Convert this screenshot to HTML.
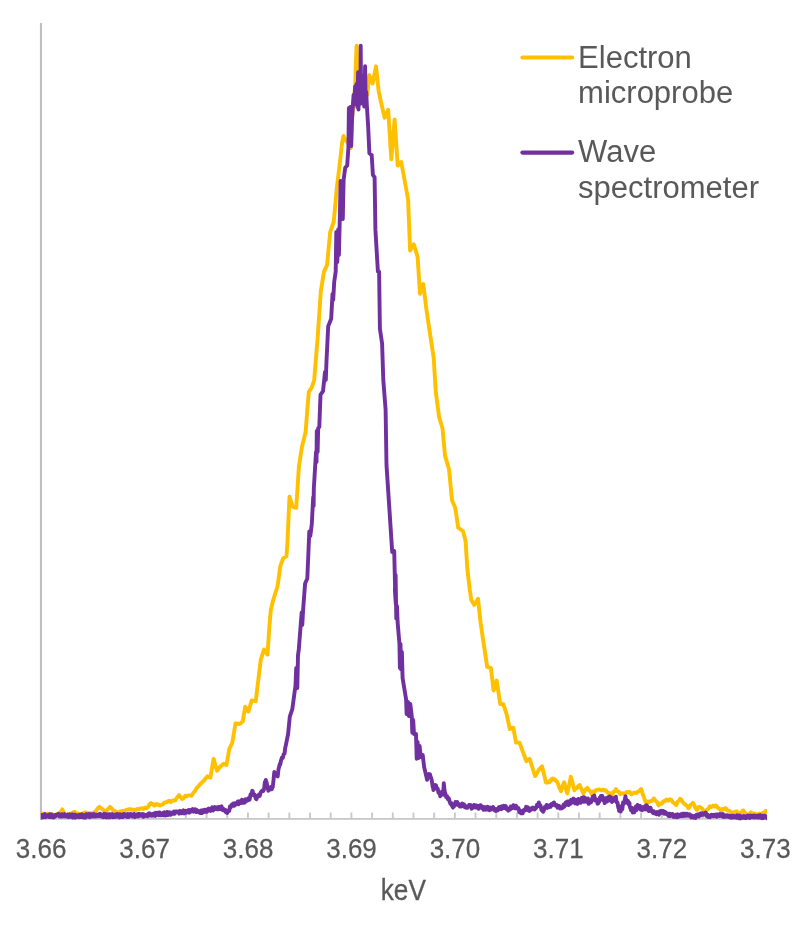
<!DOCTYPE html>
<html><head><meta charset="utf-8"><title>chart</title>
<style>
html,body{margin:0;padding:0;background:#fff;}
body{width:806px;height:933px;overflow:hidden;}
svg{display:block;will-change:transform;}
text{font-family:"Liberation Sans",sans-serif;fill:#595959;}
</style></head>
<body>
<svg width="806" height="933" viewBox="0 0 806 933">
<rect width="806" height="933" fill="#ffffff"/>
<defs><clipPath id="pc"><rect x="40.8" y="20" width="726.3" height="805"/></clipPath></defs>
<g fill="none">
<path d="M40.95,22.9V819.7" stroke="#bfbfbf" stroke-width="2.1"/>
<path d="M40,818.85H767" stroke="#c6c6c6" stroke-width="1.8"/>
<path d="M41.05,812.4V818.5M61.74,812.4V818.5M82.43,812.4V818.5M103.12,812.4V818.5M123.81,812.4V818.5M144.50,812.4V818.5M165.19,812.4V818.5M185.88,812.4V818.5M206.57,812.4V818.5M227.26,812.4V818.5M247.95,812.4V818.5M268.64,812.4V818.5M289.33,812.4V818.5M310.02,812.4V818.5M330.71,812.4V818.5M351.40,812.4V818.5M372.09,812.4V818.5M392.78,812.4V818.5M413.47,812.4V818.5M434.16,812.4V818.5M454.85,812.4V818.5M475.54,812.4V818.5M496.23,812.4V818.5M516.92,812.4V818.5M537.61,812.4V818.5M558.30,812.4V818.5M578.99,812.4V818.5M599.68,812.4V818.5M620.37,812.4V818.5M641.06,812.4V818.5M661.75,812.4V818.5M682.44,812.4V818.5M703.13,812.4V818.5M723.82,812.4V818.5M744.51,812.4V818.5M765.20,812.4V818.5" stroke="#c9c9c9" stroke-width="1.9"/>
</g>
<g clip-path="url(#pc)" fill="none" stroke-width="3.9" stroke-linejoin="round" stroke-linecap="round">
<path d="M38.0,813.7 L38.0,814.0 L39.6,814.0 L41.0,813.5 L41.2,813.1 L42.8,814.1 L44.4,813.5 L46.0,814.7 L47.6,813.8 L48.0,814.5 L49.2,814.2 L50.8,815.3 L52.4,814.3 L54.0,815.5 L55.0,815.0 L55.6,815.4 L57.2,813.6 L58.8,814.0 L60.0,813.0 L60.4,812.0 L62.0,810.2 L62.3,809.3 L63.6,812.2 L64.8,815.5 L65.2,815.7 L66.8,814.7 L68.4,814.7 L70.0,813.5 L70.0,814.0 L71.6,813.7 L73.2,812.1 L74.7,811.8 L74.8,812.5 L76.4,813.1 L78.0,813.4 L79.0,814.5 L79.6,814.7 L81.2,813.6 L82.8,813.9 L84.4,812.6 L85.0,813.0 L86.0,812.5 L87.6,813.8 L89.2,813.1 L90.8,813.2 L92.0,814.0 L92.4,814.1 L94.0,812.2 L95.6,811.5 L96.0,811.0 L97.2,808.9 L98.8,807.4 L99.5,806.8 L100.4,808.0 L102.0,808.6 L102.0,809.0 L103.6,810.1 L105.0,812.3 L105.2,812.6 L106.8,810.1 L108.0,809.0 L108.4,809.1 L110.0,807.0 L110.0,806.8 L111.6,808.3 L113.0,810.0 L113.2,810.6 L114.8,811.0 L116.4,811.9 L117.0,813.0 L118.0,813.0 L119.6,811.6 L121.2,811.2 L122.8,811.5 L123.0,811.0 L124.4,810.9 L126.0,810.0 L127.6,809.5 L129.2,809.6 L129.3,809.3 L130.8,809.3 L132.4,809.9 L134.0,809.6 L135.0,810.0 L135.6,810.2 L137.2,809.0 L138.8,809.1 L140.0,808.5 L140.4,808.8 L142.0,808.1 L143.6,808.9 L145.2,807.5 L146.7,808.0 L146.8,808.3 L148.4,806.4 L150.0,803.7 L151.0,803.0 L151.6,804.0 L153.2,804.1 L154.2,805.6 L154.8,804.5 L156.4,804.7 L156.6,803.9 L158.0,804.3 L159.6,805.5 L160.3,805.6 L161.2,804.8 L162.8,804.4 L164.0,803.0 L164.4,802.4 L166.0,802.4 L167.6,801.7 L167.8,801.4 L169.2,800.8 L170.8,802.1 L171.0,801.5 L172.4,800.6 L174.0,800.3 L175.2,800.6 L175.6,799.8 L177.2,797.3 L178.8,795.6 L179.0,795.0 L180.4,797.1 L182.0,798.7 L182.0,799.0 L183.6,798.2 L185.2,796.0 L186.4,795.7 L186.8,796.2 L188.4,795.4 L190.0,795.4 L191.4,795.7 L191.6,795.8 L193.2,792.9 L194.8,791.4 L196.4,788.4 L197.6,787.0 L198.0,786.9 L199.6,784.6 L203.8,780.8 L207.4,776.2 L210.4,777.6 L213.6,758.8 L216.9,770.7 L220.0,767.0 L223.6,763.8 L226.5,765.0 L229.3,748.9 L232.3,742.7 L235.5,723.3 L239.7,724.0 L242.7,721.6 L245.2,706.7 L248.4,711.7 L251.6,700.5 L255.8,701.2 L257.6,685.6 L260.8,659.6 L264.0,649.6 L267.5,654.6 L269.5,624.8 L270.8,610.0 L273.2,600.0 L277.6,586.0 L280.3,566.1 L283.3,558.2 L286.5,556.2 L287.5,541.3 L289.5,496.6 L292.7,506.6 L296.2,507.8 L298.9,466.8 L301.9,447.0 L305.6,432.1 L307.3,409.8 L308.8,391.9 L311.8,387.4 L314.2,380.0 L317.6,338.6 L320.8,291.4 L324.0,271.6 L327.0,265.4 L330.2,231.9 L333.7,222.0 L336.9,187.2 L339.5,166.0 L342.1,142.9 L343.4,136.0 L345.5,140.0 L348.0,143.0 L350.8,148.0 L351.6,125.0 L353.2,105.0 L355.3,85.0 L355.6,70.0 L356.6,45.7 L357.6,70.0 L359.0,85.0 L362.5,96.0 L367.2,95.0 L369.2,75.3 L372.6,83.6 L376.0,66.3 L378.6,90.8 L381.2,103.0 L384.7,117.7 L388.2,109.9 L391.3,159.4 L394.6,119.5 L397.7,165.5 L401.2,162.0 L405.3,184.0 L408.1,199.6 L410.1,250.5 L413.8,244.3 L417.6,256.7 L420.0,293.9 L423.3,284.0 L426.3,308.8 L430.0,333.6 L433.7,358.0 L435.8,392.3 L439.1,417.1 L442.5,428.3 L445.0,455.6 L449.0,469.3 L452.0,500.3 L455.2,507.7 L458.2,527.6 L463.1,531.3 L465.6,541.2 L467.3,568.5 L469.8,590.0 L471.3,600.0 L474.3,604.9 L478.0,598.7 L480.5,622.3 L484.2,647.1 L487.2,666.9 L490.9,668.2 L493.6,690.5 L496.6,680.6 L500.3,704.1 L503.3,704.1 L506.6,714.1 L509.8,729.0 L513.3,727.7 L516.0,742.6 L519.5,742.6 L522.7,751.3 L526.4,761.2 L529.6,758.7 L535.1,776.1 L538.8,769.9 L542.0,766.2 L545.0,778.4 L545.8,782.3 L546.6,782.7 L548.2,781.5 L548.7,782.3 L549.8,782.0 L551.4,779.0 L552.5,778.6 L553.0,779.7 L554.6,779.1 L556.2,781.2 L556.7,781.1 L557.8,783.3 L559.4,787.8 L561.0,791.2 L561.1,791.0 L562.6,786.2 L564.1,782.3 L564.2,782.4 L565.8,788.7 L567.3,793.5 L567.4,792.7 L569.0,785.8 L570.6,777.8 L570.7,776.7 L572.2,781.5 L573.8,788.4 L574.5,790.2 L575.4,788.9 L577.0,788.2 L577.3,787.5 L578.6,785.8 L579.7,785.0 L580.2,786.7 L581.8,789.7 L583.2,793.2 L583.4,793.4 L585.0,790.3 L586.6,788.4 L587.3,787.8 L588.2,789.8 L589.8,790.7 L591.4,793.2 L591.4,794.0 L593.0,791.4 L594.6,791.9 L595.5,790.5 L596.2,790.1 L597.8,789.7 L599.4,789.4 L601.0,790.5 L602.6,790.0 L603.7,789.7 L604.2,790.6 L605.8,790.3 L607.4,792.4 L609.0,793.2 L610.6,793.2 L611.9,794.6 L612.2,794.7 L613.8,791.6 L615.4,790.6 L616.0,789.1 L617.0,791.0 L618.6,791.5 L620.0,794.0 L620.2,794.2 L621.8,793.3 L623.4,793.5 L625.0,793.4 L626.6,792.0 L628.2,791.9 L628.2,792.6 L629.8,792.0 L631.4,794.3 L632.3,794.0 L633.0,793.2 L634.6,792.5 L636.2,793.1 L637.8,791.9 L637.8,791.7 L639.4,791.0 L641.0,789.0 L641.3,789.1 L642.6,793.8 L644.2,798.0 L645.2,801.4 L645.8,802.0 L647.4,801.6 L648.7,802.2 L649.0,801.4 L650.6,801.3 L652.2,800.6 L653.8,798.5 L654.2,798.7 L655.4,800.8 L657.0,802.0 L658.6,805.4 L658.8,805.0 L660.2,803.5 L661.8,803.7 L663.4,801.2 L665.0,801.2 L665.1,800.6 L666.6,799.6 L668.2,800.7 L669.8,799.2 L670.5,799.5 L671.4,800.0 L673.0,802.6 L674.6,803.4 L676.0,805.0 L676.2,805.1 L677.8,801.5 L679.4,800.4 L680.1,798.7 L681.0,799.4 L682.6,801.9 L684.2,803.8 L685.8,804.9 L687.4,806.4 L688.3,808.2 L689.0,807.9 L690.6,804.8 L692.2,804.0 L692.9,802.8 L693.8,803.9 L695.4,807.9 L696.5,809.6 L697.0,809.9 L698.6,807.2 L699.7,806.9 L700.2,807.7 L701.8,808.2 L703.4,810.5 L704.7,811.0 L705.0,811.6 L706.6,810.0 L708.2,808.9 L709.8,806.3 L710.1,806.9 L711.4,807.0 L713.0,805.6 L714.6,806.5 L715.6,805.5 L716.2,805.6 L717.8,807.9 L719.4,808.7 L721.0,810.4 L721.0,811.0 L722.6,808.9 L724.2,809.4 L725.1,808.2 L725.8,808.1 L727.4,810.5 L729.0,810.6 L730.6,811.8 L732.0,813.7 L732.2,814.0 L733.8,812.2 L735.4,812.5 L736.0,811.5 L737.0,811.5 L738.6,813.4 L740.1,813.7 L740.2,813.3 L741.8,812.1 L742.9,810.4 L743.4,810.6 L745.0,813.0 L746.6,814.1 L747.0,815.0 L748.2,814.7 L749.8,813.4 L751.0,812.3 L751.4,812.8 L753.0,813.8 L754.6,813.5 L756.2,814.1 L756.5,815.0 L757.8,814.9 L759.4,813.6 L761.0,814.6 L762.0,813.7 L762.6,812.9 L764.2,812.8 L765.8,810.8 L766.0,811.5 L767.4,811.7 L769.0,810.5" stroke="#ffc000"/>
<path d="M38.0,814.8 L38.0,816.0 L38.9,814.9 L39.7,817.2 L40.6,814.9 L41.0,816.0 L41.4,817.5 L42.3,815.1 L43.1,817.5 L44.0,815.4 L44.8,814.1 L45.7,817.2 L46.5,815.4 L47.4,816.4 L48.2,815.0 L49.1,816.9 L49.9,814.2 L50.8,817.1 L51.6,814.4 L52.5,816.5 L53.3,817.5 L54.2,817.1 L55.0,814.9 L55.9,816.2 L56.7,814.6 L57.6,814.6 L58.4,813.9 L59.3,816.3 L60.0,815.5 L60.1,816.6 L61.0,816.5 L61.8,814.2 L62.7,816.4 L63.5,814.7 L64.4,814.1 L65.2,816.4 L66.1,815.1 L66.9,816.4 L67.8,814.6 L68.6,817.2 L69.5,814.4 L70.3,816.8 L71.1,815.0 L72.0,814.3 L72.8,817.5 L73.7,814.9 L74.5,814.5 L75.4,817.7 L76.2,815.1 L77.1,816.8 L77.9,815.4 L78.8,817.2 L79.6,814.7 L80.0,816.0 L80.5,817.0 L81.3,817.1 L82.2,814.3 L83.0,816.6 L83.9,817.5 L84.7,815.2 L85.6,817.6 L86.4,814.1 L87.3,814.6 L88.1,816.4 L89.0,814.0 L89.8,817.2 L90.7,814.2 L91.5,816.6 L92.4,814.3 L93.2,816.4 L94.1,814.0 L94.9,816.5 L95.8,816.3 L96.6,814.8 L97.5,816.1 L98.3,814.6 L99.2,816.1 L100.0,815.5 L100.0,813.8 L100.9,814.2 L101.7,816.8 L102.6,815.0 L103.4,817.2 L104.3,813.8 L105.1,816.9 L106.0,814.2 L106.8,817.4 L107.7,814.4 L108.5,817.3 L109.4,814.2 L110.2,817.3 L111.1,814.3 L111.9,814.1 L112.8,817.2 L113.6,816.9 L114.5,814.8 L115.3,817.0 L116.2,814.4 L117.0,814.1 L117.9,816.7 L118.7,814.5 L119.6,817.4 L120.0,815.8 L120.4,814.3 L121.3,817.0 L122.1,815.0 L123.0,816.9 L123.8,814.0 L124.7,816.2 L125.5,814.3 L126.4,816.3 L127.2,817.0 L128.1,814.0 L128.9,816.9 L129.8,814.5 L130.6,813.9 L131.5,814.6 L132.3,816.4 L133.2,814.4 L134.0,813.9 L134.9,817.2 L135.7,814.8 L136.6,816.2 L137.4,814.4 L138.3,816.5 L139.1,813.8 L140.0,814.3 L140.8,815.8 L141.7,815.8 L142.5,814.1 L143.4,816.8 L144.2,814.6 L145.1,815.7 L145.9,816.0 L146.7,815.2 L146.8,814.7 L147.6,816.2 L148.5,813.7 L149.3,813.2 L150.2,815.6 L151.0,814.1 L151.9,815.8 L152.7,814.0 L153.6,815.5 L154.4,813.3 L155.3,815.9 L156.1,812.8 L157.0,813.7 L157.8,812.8 L158.7,815.2 L159.5,812.4 L160.0,814.0 L160.4,815.2 L161.2,815.4 L162.1,814.9 L162.9,813.1 L163.8,815.3 L164.6,812.3 L165.5,815.3 L166.3,815.3 L167.2,812.0 L168.0,815.1 L168.9,814.3 L169.7,812.3 L170.6,814.8 L171.4,812.7 L172.3,812.6 L173.1,813.8 L174.0,811.6 L174.8,813.7 L175.0,813.0 L175.7,811.5 L176.5,811.4 L177.4,811.6 L178.2,812.0 L179.1,813.6 L179.9,810.9 L180.8,813.4 L181.6,813.4 L182.5,811.1 L183.3,810.3 L184.2,813.4 L185.0,812.9 L185.9,810.9 L186.7,812.6 L187.6,810.9 L188.4,810.1 L189.3,812.7 L190.1,810.0 L191.0,811.5 L191.8,809.8 L192.7,809.0 L193.5,811.7 L193.8,810.6 L194.4,809.7 L195.2,809.3 L196.1,812.1 L196.9,810.1 L197.8,811.0 L198.6,812.3 L199.5,811.3 L200.0,812.2 L200.3,813.0 L201.2,810.6 L202.0,813.1 L202.9,810.3 L203.7,811.9 L204.6,809.9 L205.4,811.7 L206.3,809.8 L207.1,811.6 L208.0,808.9 L208.8,808.5 L209.7,808.8 L210.0,809.5 L210.5,810.9 L211.4,810.1 L212.2,807.3 L213.1,810.6 L213.9,809.3 L214.8,807.1 L215.6,808.9 L216.5,809.2 L217.3,807.3 L218.2,809.2 L219.0,806.9 L219.9,809.1 L220.7,807.9 L221.0,807.2 L221.6,806.3 L222.4,809.9 L223.3,808.7 L224.1,810.6 L225.0,809.7 L225.8,812.2 L226.7,811.6 L227.3,812.9 L227.5,810.6 L228.4,810.3 L229.2,811.0 L230.1,806.2 L230.9,807.2 L231.0,806.0 L231.8,804.6 L232.6,805.8 L233.5,803.4 L234.3,805.7 L235.2,803.3 L236.0,804.0 L236.0,804.6 L236.9,803.1 L237.7,801.6 L238.6,804.3 L239.4,801.3 L240.3,803.0 L241.0,801.5 L241.1,803.0 L242.0,799.7 L242.8,802.8 L243.7,802.2 L244.5,802.7 L245.0,801.0 L245.4,799.3 L246.2,801.3 L247.1,799.3 L247.9,800.5 L248.8,798.0 L249.6,798.5 L249.6,799.7 L250.5,794.5 L251.3,795.0 L252.2,790.8 L252.6,791.0 L253.0,793.0 L253.9,795.4 L254.7,794.6 L255.6,797.6 L255.8,798.5 L256.4,799.2 L257.3,795.9 L258.1,796.6 L259.0,794.4 L259.0,795.0 L259.8,795.9 L260.7,792.3 L261.5,791.4 L262.4,790.5 L263.2,790.5 L263.3,791.0 L264.1,789.0 L264.9,782.0 L265.8,781.1 L265.8,780.0 L266.6,782.4 L267.5,787.5 L268.2,789.8 L268.3,790.7 L269.2,788.0 L270.0,789.6 L270.9,787.1 L271.7,789.2 L272.6,786.9 L272.7,787.3 L273.4,781.3 L274.3,771.9 L274.4,772.5 L275.1,775.1 L276.0,774.0 L276.8,773.8 L277.4,776.2 L277.7,776.4 L278.5,769.4 L279.4,765.5 L279.9,763.8 L280.2,764.7 L281.1,760.1 L281.9,757.7 L282.8,758.0 L283.6,754.4 L284.4,753.8 L284.5,753.7 L285.3,747.3 L285.6,746.4 L288.1,734.0 L289.8,716.6 L292.3,709.2 L295.5,685.6 L296.2,668.0 L297.3,688.0 L298.0,655.0 L298.8,649.6 L300.5,627.3 L301.7,612.4 L302.3,625.0 L303.1,610.0 L305.1,583.5 L307.3,578.5 L309.3,531.4 L310.3,536.0 L311.8,524.0 L313.2,497.0 L313.6,506.0 L313.8,489.2 L316.0,452.0 L316.5,462.0 L316.8,430.9 L317.6,452.0 L318.2,428.0 L319.3,427.1 L320.5,394.9 L323.0,391.2 L324.2,380.0 L325.0,372.0 L325.8,380.0 L326.5,360.9 L328.2,326.2 L331.2,318.7 L332.5,293.9 L333.2,300.0 L334.2,282.0 L335.7,271.6 L336.3,232.0 L337.3,262.0 L338.2,229.4 L338.9,255.0 L339.9,214.5 L340.6,181.0 L341.3,218.0 L342.0,183.0 L342.8,219.0 L343.6,180.0 L345.2,167.7 L347.2,165.5 L348.4,147.5 L348.9,108.0 L349.6,146.0 L350.3,107.0 L351.2,146.0 L352.0,120.0 L352.8,106.5 L353.6,95.0 L354.4,104.0 L355.1,86.5 L355.8,104.0 L356.5,84.0 L357.3,107.0 L358.1,72.3 L358.5,109.5 L359.6,76.0 L360.4,100.0 L360.7,45.7 L361.1,103.5 L362.3,76.0 L363.1,103.0 L363.7,80.0 L364.2,106.5 L365.1,66.3 L365.6,100.0 L366.2,92.0 L366.9,106.0 L368.2,127.3 L369.4,153.3 L371.7,155.1 L372.9,174.8 L374.6,177.3 L375.4,229.4 L377.9,271.6 L379.1,271.6 L379.9,328.7 L382.1,343.5 L383.3,380.0 L385.6,409.7 L386.5,465.0 L389.4,509.0 L392.2,552.0 L394.2,551.0 L395.3,596.0 L395.8,604.0 L394.9,590.0 L395.6,575.0 L396.3,618.5 L397.0,606.0 L397.6,622.0 L399.4,643.3 L399.9,668.0 L400.5,644.0 L401.1,669.4 L401.9,652.0 L402.6,678.0 L403.6,684.3 L406.1,699.2 L406.6,714.0 L407.3,712.8 L408.0,702.0 L408.9,716.0 L410.3,704.0 L411.8,716.6 L412.3,732.7 L413.2,720.0 L414.0,734.0 L416.0,733.9 L416.7,758.7 L417.6,742.0 L418.5,758.0 L419.6,746.0 L420.8,757.0 L422.7,755.0 L424.2,767.4 L427.1,779.8 L429.0,774.0 L430.0,774.4 L430.9,778.0 L430.9,777.3 L431.7,780.0 L432.6,786.2 L433.3,788.5 L433.4,790.0 L434.3,785.8 L435.0,785.0 L435.1,786.8 L436.0,785.3 L436.8,788.8 L437.1,788.5 L437.7,788.5 L438.5,792.8 L439.4,792.6 L440.0,794.7 L440.2,796.2 L441.1,794.9 L441.9,791.6 L442.0,792.0 L442.8,794.6 L443.3,794.7 L443.6,787.2 L443.8,783.1 L444.5,789.6 L445.0,794.0 L445.3,793.1 L446.2,797.1 L447.0,796.0 L447.9,799.3 L448.7,798.1 L449.5,800.9 L449.6,801.6 L450.4,803.7 L451.3,803.1 L452.1,806.1 L453.0,807.6 L453.2,807.1 L453.8,804.3 L454.7,805.8 L455.0,804.0 L455.5,802.1 L456.4,804.5 L456.9,803.4 L457.2,802.0 L458.1,804.9 L458.9,804.0 L459.8,806.6 L460.0,806.0 L460.6,805.0 L461.5,806.4 L462.3,803.6 L463.0,804.0 L463.2,805.5 L464.0,804.4 L464.9,807.3 L465.7,806.1 L466.0,807.0 L466.6,807.9 L467.4,807.8 L468.3,806.5 L469.0,805.0 L469.1,806.0 L470.0,805.0 L470.8,805.2 L471.7,808.7 L471.8,807.9 L472.5,806.4 L473.4,807.7 L474.2,804.9 L475.0,805.5 L475.1,806.7 L475.9,807.5 L476.8,805.5 L477.6,806.8 L478.0,808.0 L478.5,808.8 L479.3,805.9 L480.2,805.2 L481.0,806.0 L481.0,805.5 L481.9,808.2 L482.7,806.9 L483.6,809.8 L484.0,808.5 L484.4,807.1 L485.3,809.7 L486.1,807.3 L486.7,807.9 L487.0,809.5 L487.8,806.8 L488.7,809.5 L489.5,810.2 L490.0,809.0 L490.4,807.6 L491.2,809.6 L492.1,808.6 L492.9,808.4 L493.0,807.0 L493.8,809.3 L494.6,810.3 L495.5,810.9 L496.3,809.1 L496.6,810.8 L497.2,809.3 L498.0,810.3 L498.9,807.2 L499.7,808.9 L500.0,808.0 L500.6,806.8 L501.4,809.2 L502.3,806.3 L503.1,808.1 L504.0,805.8 L504.1,806.4 L504.8,808.1 L505.7,806.1 L506.5,808.5 L506.5,809.1 L507.4,808.1 L508.2,810.7 L509.0,809.6 L509.1,808.8 L509.9,809.6 L510.8,806.6 L511.6,808.5 L512.0,807.0 L512.5,808.0 L513.3,805.2 L514.2,805.8 L515.0,808.3 L515.9,805.7 L516.5,806.4 L516.7,808.4 L517.6,808.9 L518.4,808.0 L519.0,810.0 L519.3,812.1 L520.1,810.5 L521.0,813.3 L521.8,811.7 L521.9,813.3 L522.7,813.4 L523.5,810.1 L524.0,810.0 L524.4,810.6 L525.2,810.3 L526.1,806.8 L526.4,808.4 L526.9,809.7 L527.8,807.3 L528.6,810.6 L529.5,810.9 L530.0,809.5 L530.3,808.6 L531.2,809.8 L532.0,808.0 L532.9,807.6 L533.7,807.8 L534.6,809.5 L535.1,808.4 L535.4,808.6 L536.3,807.6 L537.1,804.5 L538.0,806.1 L538.8,803.4 L538.8,802.5 L539.7,806.0 L540.5,805.4 L541.4,809.9 L542.2,809.2 L542.5,810.8 L543.1,811.8 L543.9,810.3 L544.8,806.9 L545.6,807.6 L546.3,805.9 L546.5,804.9 L547.3,807.9 L548.2,805.5 L549.0,807.2 L549.9,805.3 L550.0,806.5 L550.7,806.8 L551.6,803.9 L552.4,805.2 L553.3,802.9 L553.7,803.4 L554.1,802.5 L555.0,805.3 L555.8,805.6 L556.7,805.1 L557.0,806.0 L557.5,807.7 L558.4,805.8 L559.2,806.0 L560.1,808.5 L560.9,807.7 L561.1,808.4 L561.8,808.3 L562.6,808.0 L563.5,804.8 L564.3,806.8 L565.5,802.8 L565.5,804.1 L566.3,804.6 L567.1,801.7 L567.9,801.4 L568.6,803.4 L568.7,805.1 L569.5,801.3 L570.3,803.8 L571.1,799.7 L571.9,802.6 L572.3,800.0 L572.7,802.1 L573.5,798.6 L574.3,799.5 L575.1,803.4 L575.5,802.0 L575.9,799.9 L576.7,800.1 L577.5,803.9 L578.3,799.0 L579.1,802.4 L579.1,801.4 L579.9,799.9 L580.7,802.8 L581.5,798.0 L582.3,801.6 L582.5,800.0 L583.1,797.2 L583.9,801.9 L584.7,797.4 L585.5,800.0 L585.9,798.7 L586.3,801.7 L587.1,801.7 L587.9,798.4 L588.7,803.9 L589.5,800.5 L590.0,802.8 L590.3,801.4 L591.1,802.1 L591.9,799.3 L592.7,796.7 L593.5,799.4 L594.1,797.3 L594.3,795.5 L595.1,800.6 L595.9,800.6 L596.7,799.5 L597.5,803.7 L598.2,803.3 L598.3,802.0 L599.1,802.0 L599.9,797.4 L600.7,797.3 L600.9,796.0 L601.5,795.9 L602.3,796.0 L603.1,800.3 L603.9,798.0 L604.7,803.1 L605.0,801.4 L605.5,798.5 L606.3,798.2 L607.1,801.5 L607.9,797.1 L608.7,800.6 L609.1,798.7 L609.5,796.5 L610.3,800.1 L611.1,797.4 L611.9,802.0 L612.5,800.5 L612.7,799.2 L613.5,800.8 L614.3,798.1 L615.1,800.6 L615.9,796.7 L616.0,798.7 L616.7,802.3 L617.5,802.6 L618.3,807.6 L618.7,808.2 L619.1,810.9 L619.9,806.5 L620.7,811.5 L621.4,809.6 L621.5,807.2 L622.3,809.3 L623.1,802.3 L623.9,803.8 L624.7,800.4 L625.5,796.1 L625.5,797.3 L626.3,799.7 L627.1,802.7 L627.9,800.8 L628.7,804.4 L629.5,802.9 L629.6,805.5 L630.3,808.1 L631.1,810.3 L631.9,807.8 L632.7,812.5 L633.5,812.2 L633.7,811.5 L634.3,812.2 L635.1,808.9 L635.9,806.4 L636.7,810.0 L637.5,804.9 L637.8,806.9 L638.3,808.1 L639.1,806.5 L639.9,805.9 L640.7,809.7 L641.5,806.9 L641.9,809.6 L642.3,810.1 L643.1,807.6 L643.9,809.3 L644.7,806.6 L645.5,809.4 L646.0,806.9 L646.3,805.2 L647.1,806.0 L647.9,809.6 L648.7,811.0 L649.5,807.8 L650.5,807.6 L651.4,811.3 L652.2,811.0 L652.8,812.3 L653.1,813.1 L653.9,811.2 L654.8,813.5 L655.6,812.3 L656.5,814.3 L657.3,812.0 L658.2,813.2 L658.3,813.7 L659.0,814.6 L659.9,811.3 L660.7,813.0 L661.6,810.7 L662.3,811.5 L662.4,812.7 L663.3,811.0 L664.1,813.8 L665.0,811.8 L665.8,812.7 L666.7,814.3 L667.5,813.5 L668.4,815.9 L669.2,815.0 L669.2,813.7 L670.1,816.1 L670.9,814.1 L671.8,815.7 L672.6,814.1 L673.5,816.9 L674.3,815.0 L675.2,816.6 L676.0,814.8 L676.9,817.2 L677.4,815.9 L677.7,814.3 L678.6,816.7 L679.4,814.8 L680.3,816.1 L681.1,814.3 L682.0,816.0 L682.8,813.7 L683.7,816.0 L684.5,813.7 L685.4,815.5 L685.5,814.2 L686.2,815.8 L687.1,813.8 L687.9,815.7 L688.8,815.8 L689.6,814.3 L690.5,815.3 L691.3,817.5 L692.2,815.8 L693.0,816.2 L693.7,817.0 L693.9,817.7 L694.7,816.1 L695.6,817.9 L696.4,814.7 L697.3,816.4 L698.1,814.6 L699.0,816.5 L699.0,815.0 L699.8,813.9 L700.7,813.3 L701.5,815.1 L702.4,813.4 L703.2,814.8 L704.1,814.4 L704.7,813.1 L704.9,814.2 L705.8,812.6 L706.6,816.0 L707.5,814.6 L708.3,817.1 L708.7,816.4 L709.2,815.7 L710.0,817.2 L710.9,815.1 L711.7,814.7 L712.6,815.2 L713.4,816.2 L714.3,814.8 L715.1,815.9 L716.0,814.6 L716.8,816.7 L717.7,814.4 L718.3,815.0 L718.5,815.6 L719.4,816.0 L720.2,814.0 L721.1,814.9 L721.9,816.3 L722.8,814.1 L723.6,817.0 L724.5,815.3 L725.3,816.6 L726.2,815.4 L727.0,816.6 L727.9,815.3 L728.7,816.9 L729.2,816.4 L729.6,815.7 L730.4,817.6 L731.3,815.8 L732.1,817.8 L733.0,815.7 L733.8,815.9 L734.7,817.4 L735.5,816.2 L736.4,817.8 L737.2,815.3 L738.1,816.0 L738.9,818.3 L739.8,815.6 L740.6,818.4 L741.5,817.5 L742.3,816.4 L743.2,817.8 L744.0,816.1 L744.9,818.0 L745.6,817.0 L745.7,816.4 L746.6,817.9 L747.4,815.7 L748.3,817.4 L749.1,815.9 L750.0,817.9 L750.8,815.6 L751.7,817.1 L752.5,815.8 L753.4,817.5 L754.2,815.5 L755.1,817.4 L755.9,815.7 L756.5,816.4 L756.8,817.2 L757.6,817.6 L758.5,815.4 L759.3,817.6 L760.2,815.2 L761.0,817.9 L761.9,818.2 L762.7,815.8 L763.6,817.9 L764.4,815.7 L765.3,816.3 L766.0,817.2 L766.1,816.7 L767.0,818.1 L767.8,816.2 L768.7,816.4 L769.0,817.0" stroke="#7030a0"/>
</g>
<g font-size="27.6px" stroke="#595959" stroke-width="0.25"><text transform="translate(41.15,858.35) scale(0.943,1)" text-anchor="middle">3.66</text><text transform="translate(144.60,858.35) scale(0.943,1)" text-anchor="middle">3.67</text><text transform="translate(248.05,858.35) scale(0.943,1)" text-anchor="middle">3.68</text><text transform="translate(351.50,858.35) scale(0.943,1)" text-anchor="middle">3.69</text><text transform="translate(454.95,858.35) scale(0.943,1)" text-anchor="middle">3.70</text><text transform="translate(558.40,858.35) scale(0.943,1)" text-anchor="middle">3.71</text><text transform="translate(661.85,858.35) scale(0.943,1)" text-anchor="middle">3.72</text><text transform="translate(765.30,858.35) scale(0.943,1)" text-anchor="middle">3.73</text></g>
<text transform="translate(403.3,900.25) scale(0.892,1)" text-anchor="middle" font-size="29.4px" stroke="#595959" stroke-width="0.3">keV</text>
<path d="M522.4,57.5H572.2" stroke="#ffc000" stroke-width="4.1" stroke-linecap="round" fill="none"/>
<path d="M522.4,152.6H572.2" stroke="#7030a0" stroke-width="4.1" stroke-linecap="round" fill="none"/>
<g font-size="31.0px">
<text x="578.1" y="67.5">Electron</text>
<text x="578.1" y="103.3">microprobe</text>
<text x="578.1" y="162.3">Wave</text>
<text x="578.1" y="198.1">spectrometer</text>
</g>
</svg>
</body></html>
